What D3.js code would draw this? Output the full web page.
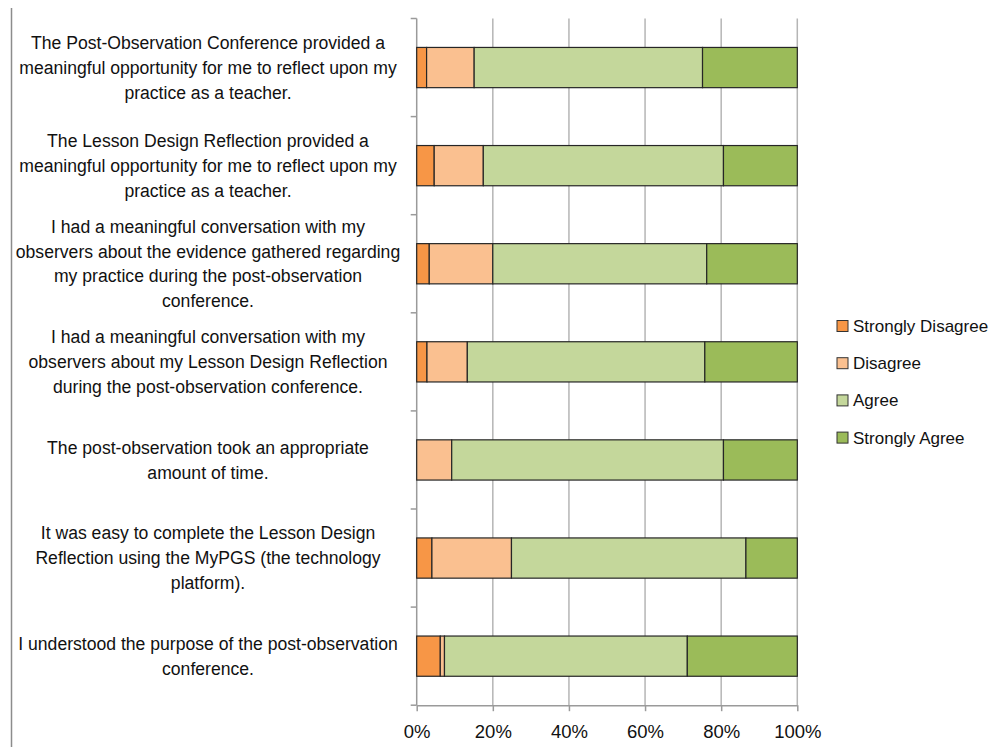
<!DOCTYPE html>
<html>
<head>
<meta charset="utf-8">
<script src="https://cdn.jsdelivr.net/npm/d3@7"></script>
<style>
  html, body { margin: 0; padding: 0; background: #fff; }
  svg { display: block; font-family: "Liberation Sans", Arial, sans-serif; }
</style>
</head>
<body>
<svg id="chart" width="1000" height="747"></svg>
<script>
// Survey statements (line breaks mark where each label wraps)
const categories = [
  "The Post-Observation Conference provided a\nmeaningful opportunity for me to reflect upon my\npractice as a teacher.",
  "The Lesson Design Reflection provided a\nmeaningful opportunity for me to reflect upon my\npractice as a teacher.",
  "I had a meaningful conversation with my\nobservers about the evidence gathered regarding\nmy practice during the post-observation\nconference.",
  "I had a meaningful conversation with my\nobservers about my Lesson Design Reflection\nduring the post-observation conference.",
  "The post-observation took an appropriate\namount of time.",
  "It was easy to complete the Lesson Design\nReflection using the MyPGS (the technology\nplatform).",
  "I understood the purpose of the post-observation\nconference."
];

const seriesNames = ["Strongly Disagree", "Disagree", "Agree", "Strongly Agree"];
const seriesColors = ["#F79646", "#FAC090", "#C4D79B", "#9BBB59"];

// Percent of respondents per response (one value per statement)
const stronglyDisagree = [2.6, 4.6, 3.3, 2.7, 0.0, 4.0, 6.2];
const disagree         = [12.5, 12.9, 16.7, 10.6, 9.2, 20.9, 1.1];
const agree            = [60.0, 63.1, 56.2, 62.4, 71.4, 61.6, 63.8];
const stronglyAgree    = [24.9, 19.4, 23.8, 24.3, 19.4, 13.5, 28.9];

const xTicks = [0, 20, 40, 60, 80, 100];

const svg = d3.select("#chart");
const plot = { left: 416.7, right: 797.3, top: 18.5, bottom: 705.2 };

const rows = categories.map((c, i) => ({
  label: c,
  values: [stronglyDisagree[i], disagree[i], agree[i], stronglyAgree[i]]
}));

const x = d3.scaleLinear().domain([0, 100]).range([plot.left, plot.right]);
const y = d3.scaleBand().domain(d3.range(categories.length))
  .range([plot.top, plot.bottom]).paddingInner(0.59).paddingOuter(0.295);

// Left frame line
svg.append("line")
  .attr("x1", 11.5).attr("x2", 11.5).attr("y1", 8).attr("y2", 747)
  .attr("stroke", "#8c8c8c").attr("stroke-width", 1.5);

// Vertical gridlines
svg.append("g").selectAll("line").data(xTicks.slice(1)).join("line")
  .attr("x1", d => x(d)).attr("x2", d => x(d))
  .attr("y1", plot.top).attr("y2", plot.bottom)
  .attr("stroke", "#b5b5b5").attr("stroke-width", 1.5);

// X axis
const xAxis = svg.append("g")
  .attr("transform", `translate(0,${plot.bottom})`)
  .call(d3.axisBottom(x).tickValues(xTicks).tickFormat(d => d + "%").tickSizeInner(6).tickSizeOuter(0).tickPadding(14));
xAxis.select(".domain").attr("stroke", "#9a9a9a").attr("stroke-width", 1.5);
xAxis.selectAll(".tick line").attr("stroke", "#9a9a9a").attr("stroke-width", 1.5);
xAxis.selectAll(".tick text").attr("font-size", 18.5).attr("fill", "#111")
  .attr("font-family", "'Liberation Sans', Arial, sans-serif");

// Y axis line with ticks on band boundaries
const boundaries = d3.range(categories.length + 1).map(i => plot.top + i * y.step());
svg.append("line")
  .attr("x1", plot.left).attr("x2", plot.left).attr("y1", plot.top).attr("y2", plot.bottom)
  .attr("stroke", "#9a9a9a").attr("stroke-width", 1.5);
svg.append("g").selectAll("line").data(boundaries).join("line")
  .attr("x1", plot.left - 6).attr("x2", plot.left)
  .attr("y1", d => d).attr("y2", d => d)
  .attr("stroke", "#9a9a9a").attr("stroke-width", 1.5);

// Stacked bars
const stacked = rows.map((r, i) => {
  let acc = 0;
  return r.values.map((v, k) => {
    const seg = { row: i, k, x0: acc, x1: acc + v };
    acc += v;
    return seg;
  });
}).flat().filter(s => s.x1 > s.x0);

svg.append("g").selectAll("rect").data(stacked).join("rect")
  .attr("x", d => x(d.x0))
  .attr("width", d => x(d.x1) - x(d.x0))
  .attr("y", d => y(d.row))
  .attr("height", y.bandwidth())
  .attr("fill", d => seriesColors[d.k])
  .attr("stroke", "#262626").attr("stroke-width", 1.2);

// Category labels, centered in the left margin
const labelCx = 208;
const lineH = 24.8;
const labels = svg.append("g").attr("font-size", 17.6).attr("fill", "#111").attr("text-anchor", "middle");
rows.forEach((r, i) => {
  const lines = r.label.split("\n");
  const cy = y(i) + y.bandwidth() / 2;
  const t = labels.append("text");
  lines.forEach((ln, j) => {
    t.append("tspan")
      .attr("x", labelCx)
      .attr("y", cy + (j - (lines.length - 1) / 2) * lineH)
      .attr("dy", "0.35em")
      .text(ln);
  });
});

// Legend
const legend = svg.append("g").attr("transform", "translate(837,326)");
const item = legend.selectAll("g").data(seriesNames).join("g")
  .attr("transform", (d, i) => `translate(0,${i * 37.2})`);
item.append("rect")
  .attr("x", 0).attr("y", -5.5).attr("width", 11).attr("height", 11)
  .attr("fill", (d, i) => seriesColors[i])
  .attr("stroke", "#333").attr("stroke-width", 1);
item.append("text")
  .attr("x", 16).attr("dy", "0.35em")
  .attr("font-size", 17).attr("fill", "#111")
  .text(d => d);
</script>
</body>
</html>
